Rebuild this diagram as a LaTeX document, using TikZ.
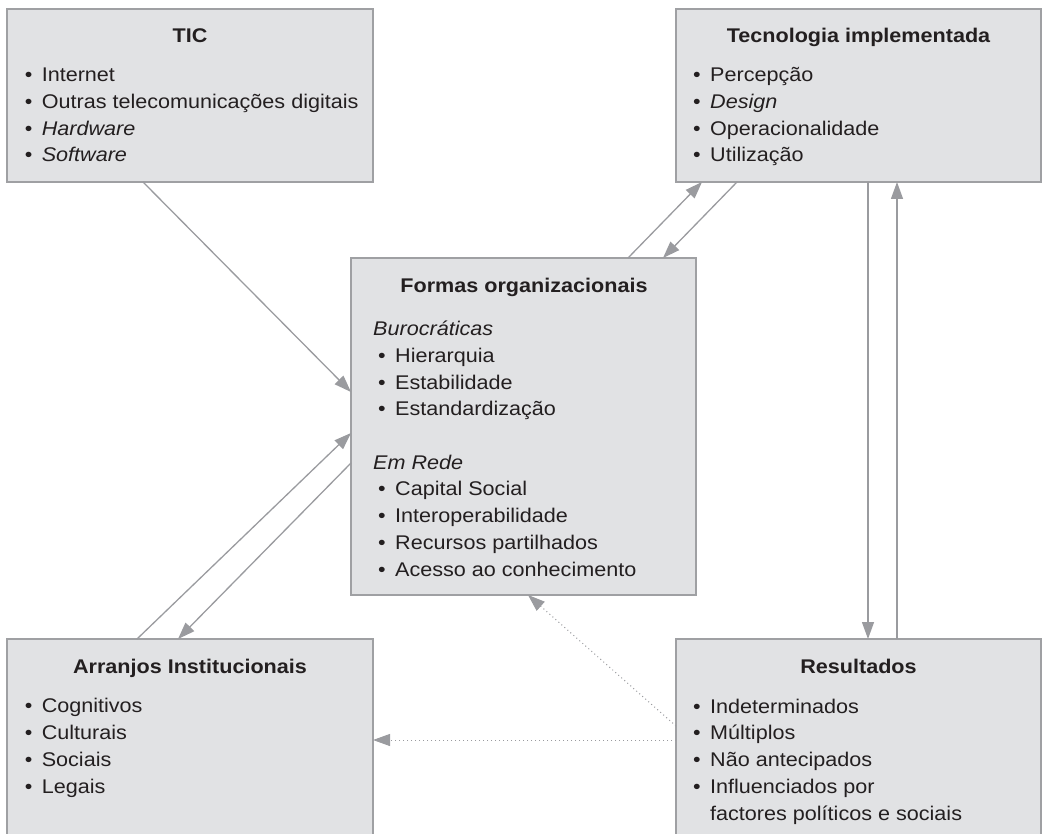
\documentclass[tikz,border=0pt]{standalone}
\usepackage{fontspec}
\setmainfont{Liberation Sans}[FakeStretch=1.09]
\usetikzlibrary{arrows.meta}
\definecolor{boxfill}{HTML}{E1E2E4}
\definecolor{boxline}{HTML}{9FA0A3}
\definecolor{arrcol}{HTML}{9A9B9F}
\definecolor{txt}{HTML}{231F20}
\newcommand\bl{\makebox[17pt][l]{\textbullet}}
\begin{document}
\begin{tikzpicture}[x=1pt,y=-1pt,
 box/.style={draw=boxline, fill=boxfill, line width=2pt, anchor=north west, inner sep=0pt, outer sep=0pt},
 ttl/.style={anchor=base, font=\fontsize{19.8}{26.7}\selectfont\bfseries, text=txt, inner sep=0pt},
 lst/.style={anchor=base west, align=left, font=\fontsize{19.8}{26.7}\selectfont, text=txt, inner sep=0pt},
 conn/.style={draw=arrcol, line width=1.3pt, -{Triangle[length=17pt,width=12pt]}},
 dconn/.style={draw=arrcol, line width=1pt, dash pattern=on 1pt off 3pt, -{Triangle[length=17pt,width=12pt]}}
]
\useasboundingbox (0,0) rectangle (1044,834);
\path[clip] (0,0) rectangle (1044,834);

% boxes
\node[box, minimum width=366pt, minimum height=173pt] (tic) at (7,9) {};
\node[box, minimum width=365pt, minimum height=173pt] (tec) at (676,9) {};
\node[box, minimum width=345pt, minimum height=337pt] (for) at (351,258) {};
\node[box, minimum width=366pt, minimum height=205pt] (arr) at (7,639) {};
\node[box, minimum width=365pt, minimum height=205pt] (res) at (676,639) {};

% texts (list nodes are placed at the baseline of their last line)
\node[ttl] (tict) at (190,43) {TIC};
\node[lst] (ticl) at (24.6,162) {\bl Internet\\\bl Outras telecomunicações digitais\\\bl \textit{Hardware}\\\bl \textit{Software}};

\node[ttl] (tect) at (858.5,43) {Tecnologia implementada};
\node[lst] (tecl) at (693,162) {\bl Percepção\\\bl \textit{Design}\\\bl Operacionalidade\\\bl Utilização};

\node[ttl] (fort) at (524,293) {Formas organizacionais};
\node[lst] (forl) at (373,576) {\textit{Burocráticas}\\\hspace*{5pt}\bl Hierarquia\\\hspace*{5pt}\bl Estabilidade\\\hspace*{5pt}\bl Estandardização\\[26.7pt]\textit{Em Rede}\\\hspace*{5pt}\bl Capital Social\\\hspace*{5pt}\bl Interoperabilidade\\\hspace*{5pt}\bl Recursos partilhados\\\hspace*{5pt}\bl Acesso ao conhecimento};

\node[ttl] (arrt) at (190,673) {Arranjos Institucionais};
\node[lst] (arrl) at (24.6,793) {\bl Cognitivos\\\bl Culturais\\\bl Sociais\\\bl Legais};

\node[ttl] (rest) at (858.5,673) {Resultados};
\node[lst] (resl) at (693,820) {\bl Indeterminados\\\bl Múltiplos\\\bl Não antecipados\\\bl Influenciados por\\\hspace*{17pt}factores políticos e sociais};

% connectors
\draw[conn] ([xshift=136pt]tic.south west) -- ([yshift=-134pt]for.north west);
\draw[conn] ([xshift=130pt]arr.north west) -- ([yshift=-175pt]for.north west);
\draw[conn] ([yshift=-205pt]for.north west) -- ([xshift=171pt]arr.north west);
\draw[conn] ([xshift=277pt]for.north west) -- ([xshift=26pt]tec.south west);
\draw[conn] ([xshift=61pt]tec.south west) -- ([xshift=312pt]for.north west);
\draw[conn] ([xshift=192pt]tec.south west) -- ([xshift=192pt]res.north west);
\draw[conn] ([xshift=221pt]res.north west) -- ([xshift=221pt]tec.south west);
\draw[dconn] ([yshift=-87pt]res.north west) -- ([xshift=177pt]for.south west);
\draw[dconn] ([yshift=-101pt]res.north west) -- ([yshift=-101pt]arr.north east);
\end{tikzpicture}
\end{document}
